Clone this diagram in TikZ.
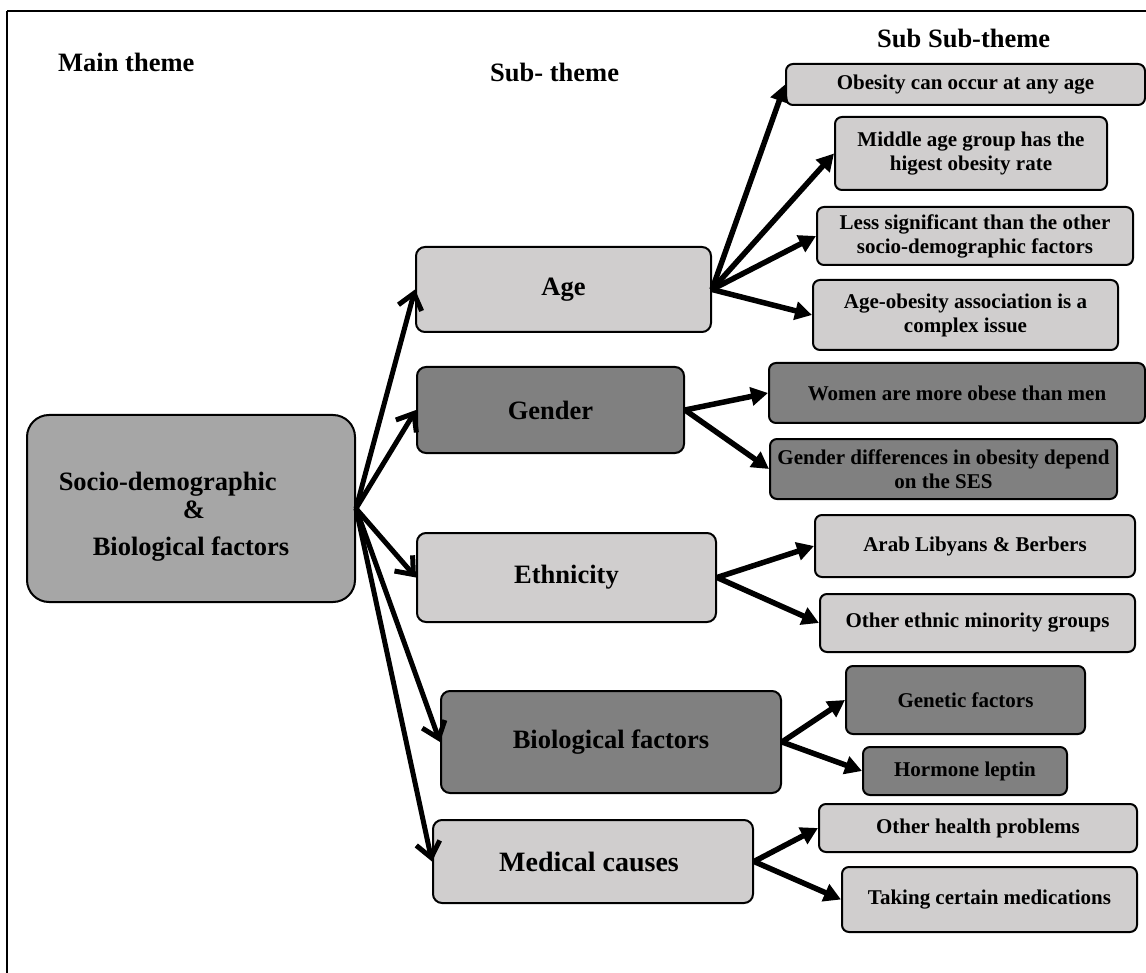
\documentclass[tikz,border=0pt]{standalone}
\usepackage{fontspec}
\setmainfont{Liberation Serif}
\usetikzlibrary{arrows.meta}
\definecolor{lightbox}{HTML}{D0CECE}
\definecolor{darkbox}{HTML}{808080}
\definecolor{mainbox}{HTML}{A6A6A6}
\tikzset{
  big/.style={font=\fontsize{26.5}{30}\selectfont\bfseries},
  small/.style={font=\fontsize{21}{24}\selectfont\bfseries},
  boxbase/.style={draw=black, line width=2pt, align=center, inner sep=1pt, text=black},
  mainnode/.style={boxbase, fill=mainbox, rounded corners=22pt, big},
  subnode/.style={boxbase, rounded corners=9pt, big},
  leaf/.style={boxbase, rounded corners=7pt, small},
  lite/.style={fill=lightbox},
  dark/.style={fill=darkbox},
  trunk/.style={line width=5pt, -{Straight Barb[length=15pt,width=24pt]}},
  branch/.style={line width=5.5pt, -{Triangle[length=17pt,width=18pt]}},
  heading/.style={big, anchor=base west, inner sep=0pt}
}
\begin{document}
\begin{tikzpicture}[x=1pt,y=-1pt]
\useasboundingbox (0,0) rectangle (1146,973);
% outer frame (only top and left edges fall inside the page)
\draw[line width=2.5pt] (7,973) -- (7,11);
\draw[line width=1.5pt] (7,11) -- (1146,11);

% column headings
\node[heading] (hmain) at (58,72) {Main theme};
\node[heading] (hsub) at (490,82) {Sub- theme};
\node[heading] (hsubsub) at (877,48) {Sub Sub-theme};

% main theme (strut in the first line lowers the text block a little)
\node[mainnode, align=left, minimum width=328pt, minimum height=187pt] (main) at (191,508.5)
  {\rule{0pt}{34pt}Socio-demographic\\[-2pt]
   \hspace*{124pt}\&\\[7pt]
   \hspace*{34pt}Biological factors\hspace*{34pt}};

% sub-themes
\node[subnode, lite, minimum width=295pt, minimum height=85pt] (age) at (563.5,289.5) {Age};
\node[subnode, dark, minimum width=267pt, minimum height=86pt] (gender) at (550.5,410) {Gender};
\node[subnode, lite, minimum width=299pt, minimum height=89pt] (eth) at (566.5,577.5) {Ethnicity};
\node[subnode, dark, minimum width=340pt, minimum height=102pt] (bio) at (611,742) {Biological factors};
\node[subnode, lite, minimum width=320pt, minimum height=83pt, font=\fontsize{28}{32}\selectfont\bfseries] (med) at (593,861.5) {Medical causes\hspace*{8pt}};

% sub sub-themes
\node[leaf, lite, minimum width=359pt, minimum height=41pt] (anyage) at (965.5,84.5) {Obesity can occur at any age};
\node[leaf, lite, minimum width=272pt, minimum height=73pt] (middle) at (971,153.5) {Middle age group has the\\higest obesity rate};
\node[leaf, lite, minimum width=316pt, minimum height=58pt] (lesssig) at (975,236) {Less significant than the other\\socio-demographic factors};
\node[leaf, lite, minimum width=305pt, minimum height=70pt] (complex) at (965.5,315) {Age-obesity association is a\\complex issue};
\node[leaf, dark, minimum width=376pt, minimum height=60pt] (women) at (957,393) {Women are more obese than men};
\node[leaf, dark, minimum width=347pt, minimum height=60pt] (ses) at (943.5,469) {Gender differences in obesity depend\\on the SES};
\node[leaf, lite, minimum width=320pt, minimum height=62pt] (arab) at (975,546) {Arab Libyans \& Berbers};
\node[leaf, lite, minimum width=315pt, minimum height=58pt] (minority) at (977.5,623) {Other ethnic minority groups};
\node[leaf, dark, minimum width=239pt, minimum height=68pt] (genetic) at (965.5,700) {Genetic factors};
\node[leaf, dark, minimum width=204pt, minimum height=48pt] (leptin) at (965,771) {Hormone leptin};
\node[leaf, lite, minimum width=318pt, minimum height=48pt] (health) at (978,828) {Other health problems};
\node[leaf, lite, minimum width=295pt, minimum height=65pt] (meds) at (989.5,899.5) {Taking certain medications};

% main theme to sub-themes
\foreach \t in {age,gender,eth,bio,med}
  \draw[trunk] (main.east) -- (\t.west);

% sub-themes to sub sub-themes
\foreach \s/\t in {age/anyage, age/middle, age/lesssig, age/complex,
                   gender/women, gender/ses,
                   eth/arab, eth/minority,
                   bio/genetic, bio/leptin,
                   med/health, med/meds}
  \draw[branch] (\s.east) -- (\t.west);
\end{tikzpicture}
\end{document}
